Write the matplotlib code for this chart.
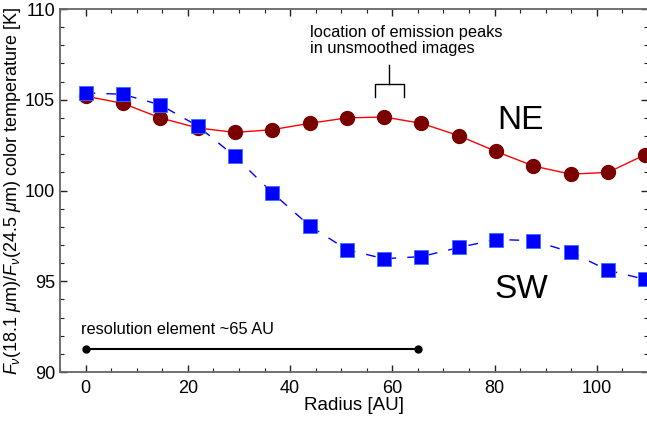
import matplotlib
matplotlib.use("Agg")
import matplotlib.pyplot as plt
from matplotlib.ticker import MultipleLocator

plt.rcParams["font.family"] = ["Liberation Sans", "DejaVu Sans"]
plt.rcParams["mathtext.fontset"] = "custom"
plt.rcParams["mathtext.it"] = "Liberation Sans:italic"
plt.rcParams["mathtext.rm"] = "Liberation Sans"

# ── data ─────────────────────────────────────────────────────────────────────
radius = [0.0, 7.3, 14.6, 21.9, 29.2, 36.5, 43.8, 51.1,
          58.4, 65.7, 73.0, 80.3, 87.6, 94.9, 102.2, 109.5]
temp_ne = [105.2, 104.8, 104.0, 103.45, 103.2, 103.35, 103.7, 104.0,
           104.05, 103.7, 103.02, 102.15, 101.35, 100.9, 101.0, 101.98]
temp_sw = [105.38, 105.3, 104.72, 103.56, 101.88, 99.88, 98.06, 96.74,
           96.24, 96.36, 96.86, 97.3, 97.24, 96.6, 95.6, 95.1]

res_x = [0, 65]
res_y = [91.25, 91.25]

# bracket for emission peak locations
br_x = [56.6, 56.6, 62.2, 62.2]
br_y = [105.15, 105.87, 105.87, 105.15]
stem_x = [59.4, 59.4]
stem_y = [105.87, 106.9]

# ── figure ───────────────────────────────────────────────────────────────────
fig = plt.figure(figsize=(6.47, 4.23), dpi=100)
ax = fig.add_axes([60 / 647, 51 / 423, 588 / 647, 363 / 423])

ax.plot(radius, temp_ne, color="#ff0000", lw=1.0, zorder=2)
ax.plot(radius, temp_ne, "o", color="#7a0000", ms=10, mec="#7a0000", zorder=3)
ax.plot(radius, temp_sw, color="#0000ff", lw=1.0, dashes=(7, 8), zorder=4)
ax.plot(radius, temp_sw, "s", color="#0000ff", ms=9.5, mec="#3a6cff", mew=0.6, zorder=5)

ax.plot(res_x, res_y, color="black", lw=1.5, marker="o", ms=5)
ax.text(-0.9, 92.1, "resolution element ~65 AU", fontsize=11.8)

ax.plot(br_x, br_y, color="black", lw=1.0)
ax.plot(stem_x, stem_y, color="black", lw=1.0)
ax.text(43.8, 107.55, "location of emission peaks\nin unsmoothed images",
        fontsize=11.8, linespacing=1.1)

ax.text(80.6, 103.4, "NE", fontsize=24)
ax.text(80.0, 94.1, "SW", fontsize=24)

ax.set_xlim(-5, 110)
ax.set_ylim(90, 110)
ax.xaxis.set_major_locator(MultipleLocator(20))
ax.xaxis.set_minor_locator(MultipleLocator(5))
ax.yaxis.set_major_locator(MultipleLocator(5))
ax.yaxis.set_minor_locator(MultipleLocator(1))
ax.tick_params(which="both", direction="in", top=True, right=True,
               labelsize=13, color="#222222")
ax.tick_params(which="major", length=5, width=1)
ax.tick_params(which="minor", length=3, width=0.8)
ax.tick_params(axis="x", pad=6)
for sp in ax.spines.values():
    sp.set_edgecolor("#666666")
    sp.set_linewidth(1.3)

ax.set_xlabel("Radius [AU]", fontsize=13.5, labelpad=0)
ax.set_ylabel(r"$F_{\nu}$(18.1 $\mu$m)/$F_{\nu}$(24.5 $\mu$m) color temperature [K]",
              fontsize=13, labelpad=1)

fig.savefig("out.png", dpi=100)
